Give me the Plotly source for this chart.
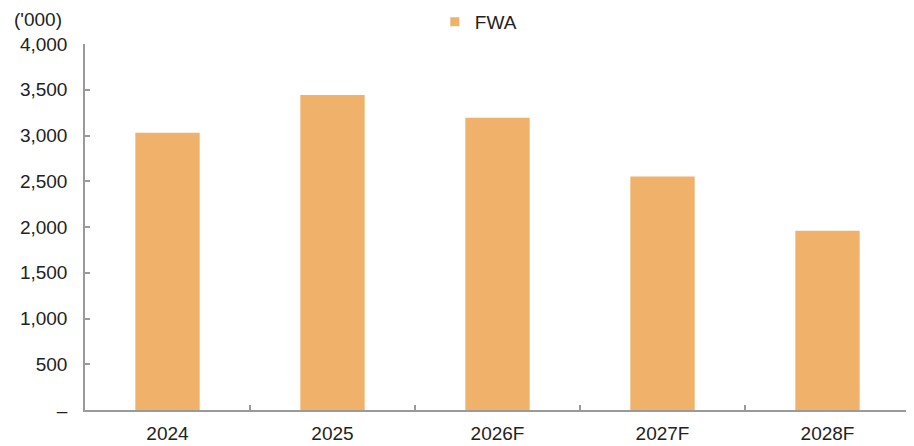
import plotly.graph_objects as go

categories = ["2024", "2025", "2026F", "2027F", "2028F"]
fwa_values = [3030, 3442, 3194, 2552, 1958]
y_tick_vals = [0, 500, 1000, 1500, 2000, 2500, 3000, 3500, 4000]
y_tick_text = ["–", "500", "1,000", "1,500", "2,000", "2,500", "3,000", "3,500", "4,000"]

FONT = "Liberation Sans, Arial, sans-serif"
TXT = "#222222"
AX = "#9a9a9a"
BAR = "#F0B26B"

fig = go.Figure()
fig.add_trace(go.Bar(
    x=categories, y=fwa_values, name="FWA", showlegend=False,
    marker=dict(color=BAR, line=dict(width=0)),
    width=0.39,
))
# legend-only entry with a small square swatch
fig.add_trace(go.Scatter(
    x=[None], y=[None], mode="markers", name="FWA",
    marker=dict(symbol="square", size=9, color=BAR),
))

fig.update_layout(
    width=914, height=446,
    margin=dict(l=77, r=12, t=36, b=44, autoexpand=False),
    paper_bgcolor="white", plot_bgcolor="white",
    font=dict(family=FONT, size=19, color=TXT),
    showlegend=True,
    legend=dict(orientation="h", x=0.424, xanchor="left",
                y=1 + (44 - 22) / 366, yanchor="middle",
                itemwidth=30,
                font=dict(size=19, color=TXT), bgcolor="rgba(0,0,0,0)"),
    xaxis=dict(
        type="category", showline=True, linecolor=AX, linewidth=1.5,
        ticks="inside", ticklen=5, tickcolor=AX, tickwidth=1.5,
        tickson="boundaries", showgrid=False, zeroline=False,
        tickfont=dict(size=19, color=TXT), ticklabelstandoff=5,
        automargin=False,
    ),
    yaxis=dict(
        range=[0, 4000], tickvals=y_tick_vals, ticktext=y_tick_text,
        showline=True, linecolor=AX, linewidth=1.5,
        ticks="inside", ticklen=5, tickcolor=AX, tickwidth=1.5,
        showgrid=False, zeroline=False,
        tickfont=dict(size=19, color=TXT), ticklabelstandoff=12,
        automargin=False,
    ),
    annotations=[dict(
        text="('000)", xref="paper", yref="paper",
        x=(12 - 85) / 825, y=1 + (44 - 19) / 366,
        xanchor="left", yanchor="middle", showarrow=False,
        font=dict(size=19, color=TXT),
    )],
)

fig.write_html("out.html")
